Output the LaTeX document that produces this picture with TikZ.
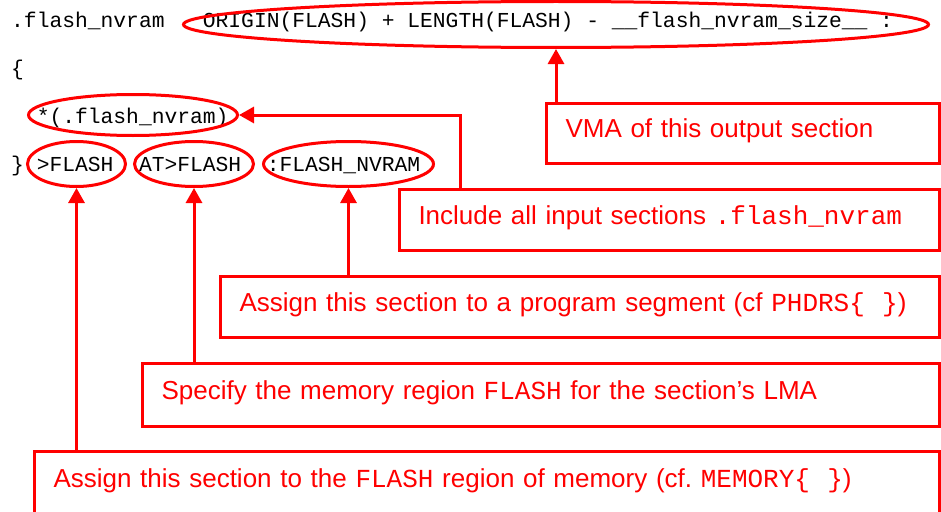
\documentclass[tikz,border=0pt]{standalone}
\usepackage{fontspec}
\setmonofont{Liberation Mono}
\newfontfamily\notefont{Liberation Sans}
\usetikzlibrary{arrows.meta,shapes.geometric}

\begin{document}
\begin{tikzpicture}[x=1pt, y=-1pt]
\tikzset{ code/.style={anchor=base west, inner sep=0pt, font=\fontsize{21.3}{25}\selectfont\ttfamily},
  ring/.style={draw=red, line width=3pt, ellipse, inner sep=0pt},
  notebox/.style={draw=red, line width=3pt, text=red, anchor=north west, inner xsep=19pt, align=left,
    text height=16pt, text depth=8pt, font=\fontsize{26}{30}\selectfont\notefont},
  arr/.style={draw=red, line width=3pt, -{Triangle[width=16pt, length=15pt]}} }

\clip (0,0) rectangle (941,511);

% linker script lines
\node [code] (line1) at (11,28) {.flash\_nvram~~~ORIGIN(FLASH)~+~LENGTH(FLASH)~-~\_\_flash\_nvram\_size\_\_~:};
\node [code] (line2) at (11,75) {\{};
\node [code] (line3) at (11,123) {~~*(.flash\_nvram)};
\node [code] (line4) at (11,171) {\}~>FLASH~~AT>FLASH~~:FLASH\_NVRAM};

% ellipses round the parts
\node [ring, minimum width=745pt, minimum height=46pt] (vmaring) at (556,24.5) {};
\node [ring, minimum width=209pt, minimum height=41pt] (inring) at (133,115) {};
\node [ring, minimum width=98pt, minimum height=45pt] (regring) at (76.5,164) {};
\node [ring, minimum width=119pt, minimum height=45pt] (lmaring) at (194,164) {};
\node [ring, minimum width=170pt, minimum height=45pt] (segring) at (348.5,164) {};

% notes
\node [notebox, text width=355pt, minimum height=60pt] (vmabox) at (545,102)
  {VMA of this output section};
\node [notebox, text width=502pt, minimum height=61pt] (inbox) at (398,188)
  {Include all input sections \texttt{.flash\_nvram}};
\node [notebox, text width=681pt, minimum height=61pt] (segbox) at (219,275)
  {Assign this section to a program segment (cf \texttt{PHDRS\{~~\}})};
\node [notebox, text width=759pt, minimum height=63pt] (lmabox) at (141,362)
  {Specify the memory region \texttt{FLASH} for the section’s LMA};
\node [notebox, text width=867pt, minimum height=63pt] (regbox) at (33,450)
  {Assign this section to the \texttt{FLASH} region of memory (cf.\ \texttt{MEMORY\{~~\}})};

\draw [arr] (vmabox.north -| vmaring.south) -- (vmaring.south);
\draw [arr] ([xshift=62pt]inbox.north west) |- (inring.east);
\draw [arr] (segbox.north -| segring.south) -- (segring.south);
\draw [arr] (lmabox.north -| lmaring.south) -- (lmaring.south);
\draw [arr] (regbox.north -| regring.south) -- (regring.south);
\end{tikzpicture}
\end{document}
